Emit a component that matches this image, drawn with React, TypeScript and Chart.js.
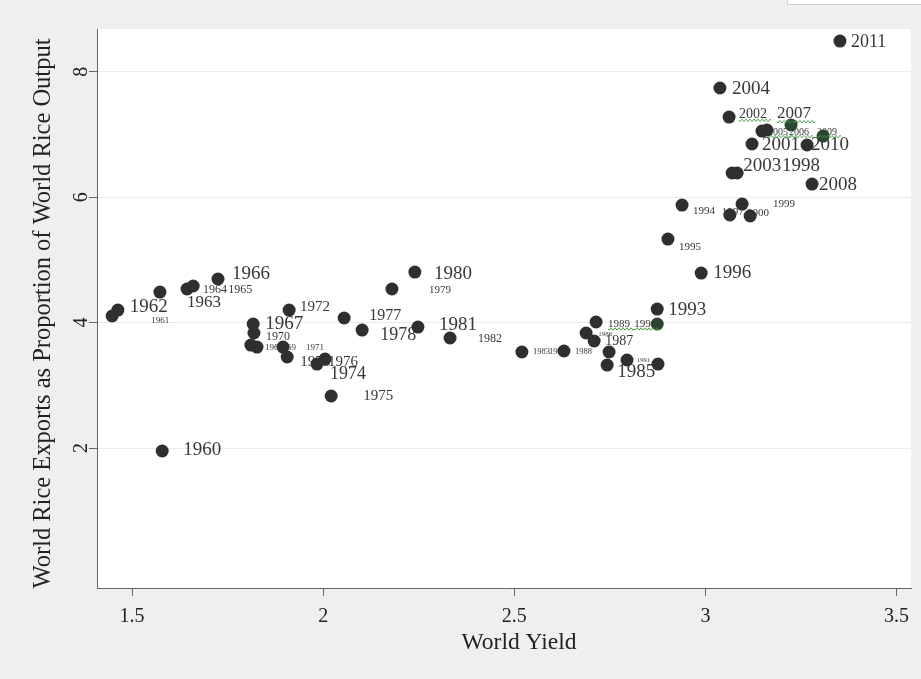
import React, { useEffect, useRef } from "react";
import { Chart, registerables } from "chart.js";

Chart.register(...registerables);

const SERIF = '"Liberation Serif", "Times New Roman", serif';

// ---- Data ----
const years = [
  1960, 1961, 1962, 1963, 1964, 1965, 1966, 1967, 1968, 1969,
  1970, 1971, 1972, 1973, 1974, 1975, 1976, 1977, 1978, 1979,
  1980, 1981, 1982, 1983, 1984, 1985, 1986, 1987, 1988, 1989,
  1990, 1991, 1992, 1993, 1994, 1995, 1996, 1997, 1998, 1999,
  2000, 2001, 2002, 2003, 2004, 2005, 2006, 2007, 2008, 2009,
  2010, 2011,
];

// World Yield (x)
const worldYield = [
  1.579, 1.448, 1.463, 1.573, 1.644, 1.660, 1.725, 1.817, 1.811, 1.827,
  1.819, 1.895, 1.911, 1.906, 2.005, 2.021, 1.984, 2.055, 2.102, 2.180,
  2.240, 2.248, 2.332, 2.520, 2.630, 2.743, 2.688, 2.709, 2.748, 2.714,
  2.874, 2.795, 2.876, 2.874, 2.939, 2.902, 2.989, 3.064, 3.083, 3.096,
  3.117, 3.122, 3.062, 3.070, 3.038, 3.148, 3.161, 3.224, 3.279, 3.308,
  3.266, 3.352,
];

// World Rice Exports as Proportion of World Rice Output (y)
const exportShare = [
  1.952, 4.105, 4.200, 4.487, 4.535, 4.583, 4.695, 3.977, 3.642, 3.610,
  3.834, 3.610, 4.200, 3.451, 3.419, 2.829, 3.339, 4.073, 3.881, 4.535,
  4.806, 3.929, 3.754, 3.531, 3.547, 3.323, 3.834, 3.706, 3.531, 4.009,
  3.977, 3.403, 3.339, 4.216, 5.874, 5.332, 4.790, 5.715, 6.385, 5.890,
  5.699, 6.847, 7.277, 6.385, 7.740, 7.054, 7.070, 7.150, 6.209, 6.974,
  6.831, 8.489,
];

const xTicks = [1.5, 2, 2.5, 3, 3.5];
const xTickLabels = ["1.5", "2", "2.5", "3", "3.5"];
const yTicks = [2, 4, 6, 8];
const yTickLabels = ["2", "4", "6", "8"];

const xTitle = "World Yield";
const yTitle = "World Rice Exports as Proportion of World Rice Output";

// ---- Label styling (offset from marker in px, font size in px) ----
const labelDx = [
  21, 39, 12, 27, 16, 35, 14, 12, 14, 21,
  12, 23, 11, 13, 5, 32, 11, 25, 18, 37,
  19, 21, 28, 11, -15, 10, 12, 11, -34, 12,
  -23, 10, 0, 11, 11, 11, 12, -8, 45, 31,
  -3, 10, 10, 11, 12, 6, 22, -14, 7, -6,
  4, 11,
];
const labelDy = [
  -1, 5, -3, 10, 1, 4, -5, 0, 3, 1,
  4, 1, -3, 5, 15, 0, -2, -2, 5, 1,
  2, -2, 1, 0, 1, 7, 1, 0, 0, 2,
  0, 0, 0, 1, 6, 8, 0, -3, -7, 0,
  -3, 1, -3, -7, 1, 1, 2, -11, 1, -4,
  0, 1,
];
const labelSize = [
  19, 9, 19, 17, 12, 12, 19, 19, 9, 9,
  12, 9, 15, 15, 18, 15, 15, 16, 18, 11,
  19, 19, 12, 8.5, 8.5, 19, 7, 14, 8.5, 11,
  11, 6.5, 0, 19, 11, 11, 19, 11, 19, 11,
  11, 19, 14, 19, 19, 10, 10, 17, 19, 10,
  19, 18,
];
const squiggleYears = [1989, 1990, 2002, 2005, 2006, 2007, 2009];
const greenTintYears = [1990, 2007, 2009];

const X_MIN = 1.4084;
const X_MAX = 3.5379;
const Y_MIN = -0.232;
const Y_MAX = 8.681;

const decorPlugin = {
  id: "decor",
  beforeDraw(chart: any) {
    const { ctx, width, height, chartArea } = chart;
    ctx.save();
    ctx.fillStyle = "#efefef";
    ctx.fillRect(0, 0, width, height);
    ctx.fillStyle = "#ffffff";
    ctx.fillRect(
      chartArea.left,
      chartArea.top,
      chartArea.right - chartArea.left,
      chartArea.bottom - chartArea.top
    );
    // small white strip at the top-right corner
    ctx.fillRect(787, 0, width - 787, 4);
    ctx.strokeStyle = "#cfcfcf";
    ctx.lineWidth = 1;
    ctx.beginPath();
    ctx.moveTo(787.5, 0);
    ctx.lineTo(787.5, 4.5);
    ctx.lineTo(width, 4.5);
    ctx.stroke();
    ctx.restore();
  },
  beforeDatasetsDraw(chart: any) {
    const { ctx } = chart;
    const meta = chart.getDatasetMeta(0);
    ctx.save();
    ctx.fillStyle = "#383838";
    ctx.textAlign = "left";
    ctx.textBaseline = "middle";
    meta.data.forEach((pt: any, i: number) => {
      const s = labelSize[i];
      if (!s) return;
      ctx.font = `${s}px ${SERIF}`;
      ctx.fillText(String(years[i]), pt.x + labelDx[i], pt.y + labelDy[i]);
    });
    ctx.restore();
  },
  afterDatasetsDraw(chart: any) {
    const { ctx } = chart;
    const meta = chart.getDatasetMeta(0);
    ctx.save();
    ctx.strokeStyle = "#3f9a3f";
    ctx.lineWidth = 1;
    meta.data.forEach((pt: any, i: number) => {
      if (!squiggleYears.includes(years[i])) return;
      const s = labelSize[i];
      ctx.font = `${s}px ${SERIF}`;
      const w = ctx.measureText(String(years[i])).width + 4;
      const x0 = pt.x + labelDx[i];
      const y0 = pt.y + labelDy[i] + s * 0.45;
      ctx.beginPath();
      for (let k = 0; k <= w; k += 1) {
        const yy = y0 + Math.sin((k / 4) * Math.PI * 2) * 1.2;
        if (k === 0) ctx.moveTo(x0 + k, yy);
        else ctx.lineTo(x0 + k, yy);
      }
      ctx.stroke();
    });
    ctx.restore();
  },
  afterDraw(chart: any) {
    const { ctx, scales, chartArea } = chart;
    ctx.save();
    ctx.fillStyle = "#222";
    // rotated y tick labels
    ctx.font = `20px ${SERIF}`;
    ctx.textAlign = "center";
    ctx.textBaseline = "alphabetic";
    yTicks.forEach((v, i) => {
      const py = scales.y.getPixelForValue(v);
      ctx.save();
      ctx.translate(87, py);
      ctx.rotate(-Math.PI / 2);
      ctx.fillText(yTickLabels[i], 0, 0);
      ctx.restore();
    });
    // y title
    ctx.font = `24.5px ${SERIF}`;
    ctx.save();
    ctx.translate(50, (chartArea.top + chartArea.bottom) / 2 + 5);
    ctx.rotate(-Math.PI / 2);
    ctx.fillText(yTitle, 0, 0);
    ctx.restore();
    // x title
    ctx.font = `23.5px ${SERIF}`;
    ctx.fillText(xTitle, (chartArea.left + chartArea.right) / 2 + 15, 649);
    ctx.restore();
  },
};

export default function App() {
  const ref = useRef<HTMLCanvasElement>(null);

  useEffect(() => {
    if (!ref.current) return;
    const points = worldYield.map((x, i) => ({ x, y: exportShare[i] }));
    const colors = years.map((yr) =>
      greenTintYears.includes(yr) ? "#2c4530" : "#2f2f2f"
    );
    const chart = new Chart(ref.current, {
      type: "scatter",
      data: {
        datasets: [
          {
            data: points,
            pointRadius: 6.5,
            pointHoverRadius: 6.5,
            pointBackgroundColor: colors,
            pointBorderWidth: 0,
            borderWidth: 0,
          },
        ],
      },
      options: {
        animation: false,
        responsive: false,
        maintainAspectRatio: false,
        devicePixelRatio: 1,
        layout: { padding: { left: 0, top: 29, right: 10, bottom: 0 } },
        plugins: {
          legend: { display: false },
          tooltip: { enabled: false },
        },
        scales: {
          x: {
            type: "linear",
            min: X_MIN,
            max: X_MAX,
            afterBuildTicks: (s: any) => {
              s.ticks = xTicks.map((v) => ({ value: v }));
            },
            afterFit: (s: any) => {
              s.height = 91;
            },
            ticks: {
              font: { family: SERIF, size: 20 },
              color: "#222",
              padding: 9,
              maxRotation: 0,
              callback: (_v: any, i: number) => xTickLabels[i],
            },
            grid: {
              drawOnChartArea: false,
              drawTicks: true,
              tickLength: 8,
              tickColor: "#666",
            },
            border: { display: true, color: "#666", width: 1 },
          },
          y: {
            type: "linear",
            min: Y_MIN,
            max: Y_MAX,
            afterBuildTicks: (s: any) => {
              s.ticks = yTicks.map((v) => ({ value: v }));
            },
            afterFit: (s: any) => {
              s.width = 97;
            },
            ticks: { display: false },
            grid: {
              drawOnChartArea: true,
              color: "#ebebeb",
              lineWidth: 1,
              drawTicks: true,
              tickLength: 8,
              tickColor: "#666",
            },
            border: { display: true, color: "#666", width: 1 },
          },
        },
      },
      plugins: [decorPlugin],
    });
    return () => chart.destroy();
  }, []);

  return (
    <div style={{ position: "fixed", left: 0, top: 0, width: 921, height: 679 }}>
      <canvas
        ref={ref}
        width={921}
        height={679}
        style={{ display: "block", width: 921, height: 679 }}
      />
    </div>
  );
}
